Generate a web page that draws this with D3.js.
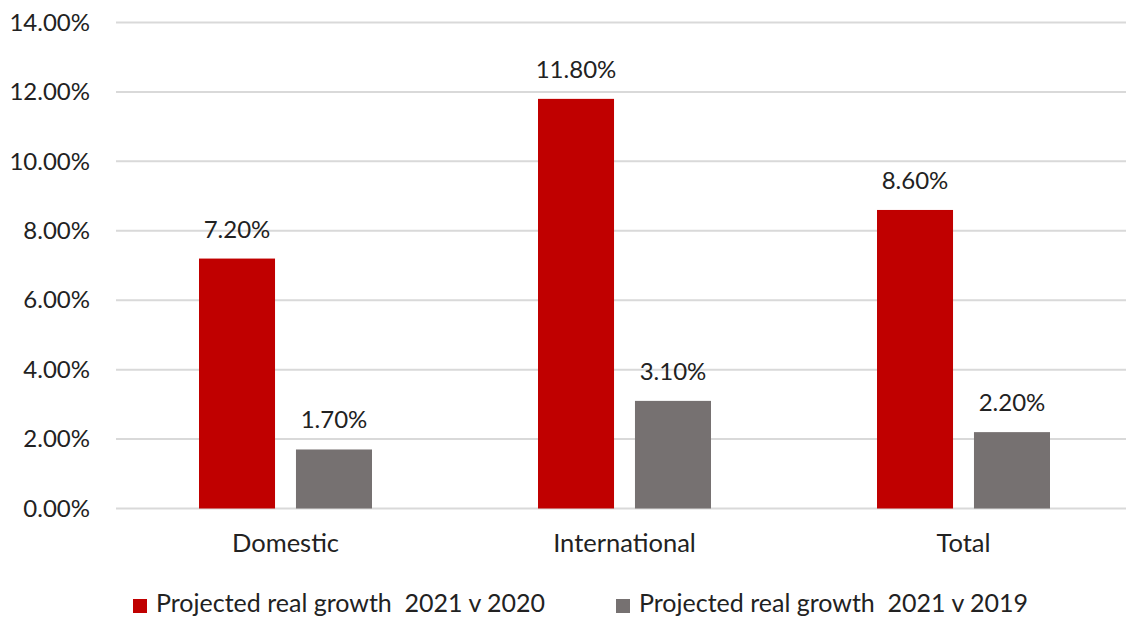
<!DOCTYPE html>
<html>
<head>
<meta charset="utf-8">
<script src="https://cdn.jsdelivr.net/npm/d3@7"></script>
<style>
body { margin: 0; background: #fff; }
svg text { font-family: Lato, "Open Sans", sans-serif; fill: #222; white-space: pre; }
</style>
</head>
<body>
<div id="chart"></div>
<script>
var categories = ["Domestic", "International", "Total"];
var seriesNames = ["Projected real growth  2021 v 2020", "Projected real growth  2021 v 2019"];
var growth2020 = [7.2, 11.8, 8.6];
var growth2019 = [1.7, 3.1, 2.2];
var yTicks = [0, 2, 4, 6, 8, 10, 12, 14];
var colors = ["#C00000", "#767171"];

var w = 1126, h = 619;

var svg = d3.select("#chart").append("svg")
    .attr("width", w)
    .attr("height", h);

var x = d3.scaleBand()
    .domain(categories)
    .range([116, 1133]);

var xs = d3.scaleBand()
    .domain([0, 1])
    .range([x.bandwidth() / 2 - 86.5, x.bandwidth() / 2 + 86.5])
    .paddingInner(0.216);

var y = d3.scaleLinear()
    .domain([0, 14])
    .range([508.5, 22.5]);

// grille
svg.append("g")
    .selectAll("line")
    .data(yTicks)
    .enter().append("line")
    .attr("x1", 116)
    .attr("x2", w)
    .attr("y1", function(d) { return y(d); })
    .attr("y2", function(d) { return y(d); })
    .attr("stroke", "#d9d9d9")
    .attr("stroke-width", 2);

// axe y
var yAxis = svg.append("g")
    .attr("transform", "translate(90,0)")
    .call(d3.axisLeft(y).tickValues(yTicks).tickSize(0).tickPadding(0)
        .tickFormat(function(d) { return d.toFixed(2) + "%"; }));
yAxis.select(".domain").remove();
yAxis.selectAll("text")
    .style("font-size", "24px")
    .attr("fill", "#222");

// axe x
var xAxis = svg.append("g")
    .attr("transform", "translate(0,552)")
    .call(d3.axisBottom(x).tickSize(0).tickPadding(0));
xAxis.select(".domain").remove();
xAxis.selectAll("text")
    .style("font-size", "25.5px")
    .attr("fill", "#222")
    .attr("dy", "0");

var rows = categories.map(function(c, i) {
    return { cat: c, values: [growth2020[i], growth2019[i]] };
});

var groups = svg.append("g")
    .selectAll("g")
    .data(rows)
    .enter().append("g")
    .attr("transform", function(d) { return "translate(" + x(d.cat) + ",0)"; });

groups.selectAll("rect")
    .data(function(d) { return d.values; })
    .enter().append("rect")
    .attr("x", function(d, i) { return xs(i); })
    .attr("width", xs.bandwidth())
    .attr("y", function(d) { return y(d); })
    .attr("height", function(d) { return y(0) - y(d); })
    .attr("fill", function(d, i) { return colors[i]; });

groups.selectAll("text")
    .data(function(d) { return d.values; })
    .enter().append("text")
    .attr("x", function(d, i) { return xs(i) + xs.bandwidth() / 2; })
    .attr("y", function(d) { return y(d) - 21; })
    .attr("text-anchor", "middle")
    .style("font-size", "24px")
    .text(function(d) { return d.toFixed(2) + "%"; });

// légende
var legX = [133, 616];
var legende = svg.append("g")
    .selectAll("g")
    .data(seriesNames)
    .enter().append("g")
    .attr("transform", function(d, i) { return "translate(" + legX[i] + ",599)"; });

legende.append("rect")
    .attr("width", 14)
    .attr("height", 14)
    .attr("fill", function(d, i) { return colors[i]; });

legende.append("text")
    .attr("x", 23)
    .attr("y", 13)
    .style("font-size", "25px")
    .text(function(d) { return d; });
</script>
</body>
</html>
